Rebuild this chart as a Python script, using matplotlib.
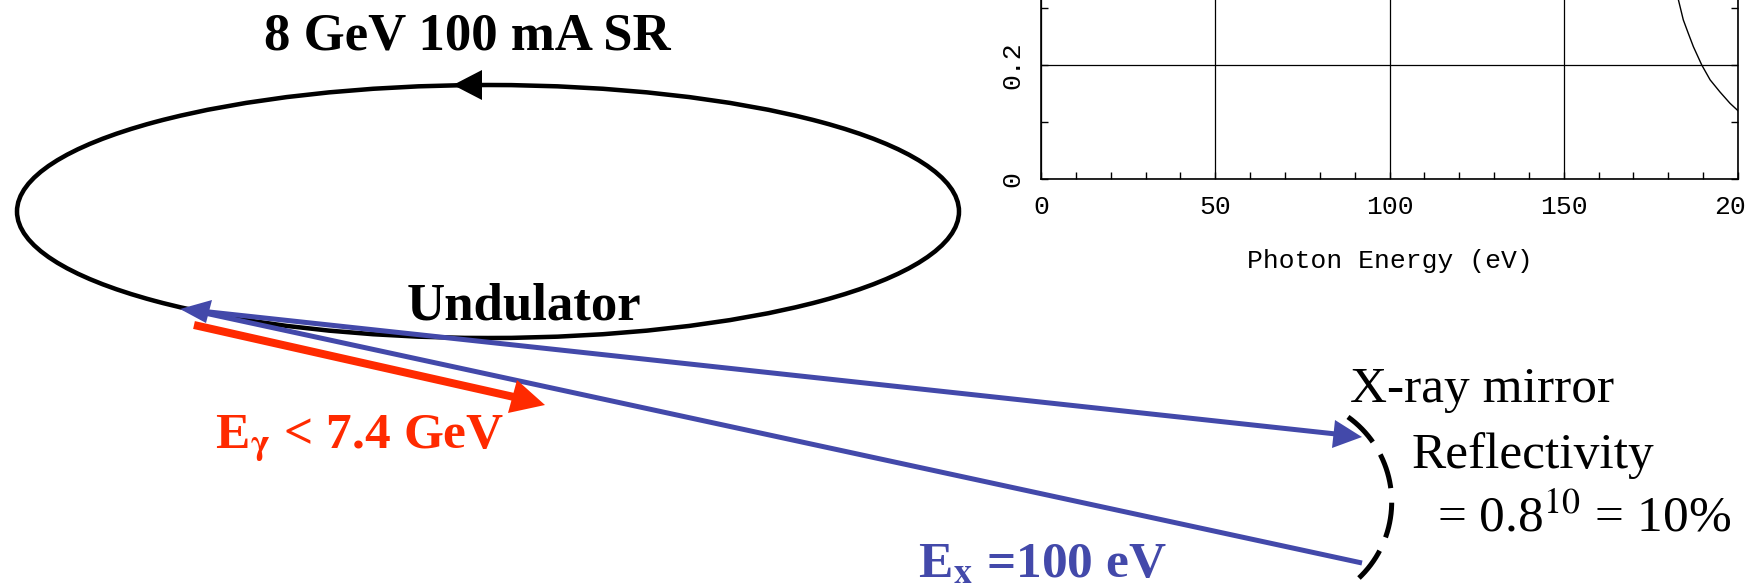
import numpy as np
import matplotlib
matplotlib.use('Agg')
import matplotlib.pyplot as plt
from matplotlib.patches import Ellipse, Polygon
from matplotlib.ticker import MultipleLocator

# ---------------- data (inset reflectivity curve) ----------------
energy_ev = [182.9, 184.3, 185.7, 187.2, 189.6, 192.0, 194.8, 197.7, 200.0]
reflectivity = [0.314, 0.279, 0.256, 0.232, 0.200, 0.174, 0.153, 0.133, 0.120]
x_ticks = [0, 50, 100, 150, 200]
x_tick_labels = ['0', '50', '100', '150', '200']
y_ticks = [0, 0.2]
y_tick_labels = ['0', '0.2']

# ---------------- figure ----------------
plt.rcParams['mathtext.fontset'] = 'stix'
plt.rcParams['lines.scale_dashes'] = False
W, H = 1747, 587
fig = plt.figure(figsize=(W / 100, H / 100), dpi=100)
fig.patch.set_facecolor('white')

ax = fig.add_axes([0, 0, 1, 1])
ax.set_xlim(0, W)
ax.set_ylim(H, 0)
ax.axis('off')

PX = 0.72  # points per pixel
BLUE = '#4349AA'
RED = '#FF2A00'
SERIF = 'Liberation Serif'

# storage ring
ring = Ellipse((488, 211.5), 942, 253, fill=False, edgecolor='black', lw=4.5 * PX, zorder=2)
ax.add_patch(ring)
ax.add_patch(Polygon([(453, 85), (482, 70), (482, 100)], closed=True,
                     facecolor='black', edgecolor='none', zorder=3))

# blue X-ray beams
ax.plot([200, 1336], [311, 434], color=BLUE, lw=5 * PX, solid_capstyle='butt', zorder=4)
ax.plot([200, 1362], [312, 563], color=BLUE, lw=5 * PX, solid_capstyle='butt', zorder=4)
ax.add_patch(Polygon([(180, 309), (212, 300), (206, 323)], closed=True,
                     facecolor=BLUE, edgecolor='none', zorder=4))
ax.add_patch(Polygon([(1362, 437), (1335, 420), (1332, 448)], closed=True,
                     facecolor=BLUE, edgecolor='none', zorder=4))

# red gamma beam
ax.plot([194, 514], [325, 397], color=RED, lw=8 * PX, solid_capstyle='butt', zorder=5)
ax.add_patch(Polygon([(545, 405), (517, 380), (508, 413)], closed=True,
                     facecolor=RED, edgecolor='none', zorder=5))

# X-ray mirror (dashed arc)
t = np.radians(np.linspace(54.4, -46.6, 200))
cx, cy, r = 1287.1, 502.0, 104.6
ax.plot(cx + r * np.cos(t), cy - r * np.sin(t), color='black', lw=5 * PX,
        linestyle=(0, (25.5, 10.5)), dash_capstyle='butt', zorder=3)

# labels
ax.text(467, 50, '8 GeV 100 mA SR', family=SERIF, weight='bold', fontsize=38,
        ha='center', va='baseline', color='black')
ax.text(524, 320, 'Undulator', family=SERIF, weight='bold', fontsize=38,
        ha='center', va='baseline', color='black')
ax.text(215, 448, r'E$_{\mathbf{\gamma}}$ < 7.4 GeV', family=SERIF, weight='bold',
        fontsize=37, ha='left', va='baseline', color=RED)
ax.text(918, 577, r'E$_{\mathbf{x}}$ =100 eV', family=SERIF, weight='bold',
        fontsize=37, ha='left', va='baseline', color=BLUE)
ax.text(1350, 402, 'X-ray mirror', family=SERIF, fontsize=37,
        ha='left', va='baseline', color='black')
ax.text(1412, 468, 'Reflectivity', family=SERIF, fontsize=37,
        ha='left', va='baseline', color='black')
ax.text(1437, 532, r'= 0.8$^{10}$ = 10%', family=SERIF, fontsize=37,
        ha='left', va='baseline', color='black')

# ---------------- inset chart ----------------
ax0_px, ax1_px, base_px, unit_px = 1041, 1738, 179.3, 571.5
ins = fig.add_axes([ax0_px / W, (H - base_px) / H, (ax1_px - ax0_px) / W, unit_px / H])
ins.set_facecolor('none')
ins.plot(energy_ev, reflectivity, color='black', lw=1.0)
ins.set_xlim(0, 200)
ins.set_ylim(0, 1)
MONO = 'Liberation Mono'
ins.set_xticks(x_ticks)
ins.set_xticklabels(x_tick_labels, family=MONO, fontsize=19)
ins.set_yticks(y_ticks)
ins.set_yticklabels(y_tick_labels, family=MONO, fontsize=19, rotation=90)
for lbl in ins.get_yticklabels():
    lbl.set_va('center')
ins.xaxis.set_minor_locator(MultipleLocator(10))
ins.yaxis.set_minor_locator(MultipleLocator(0.1))
ins.tick_params(which='both', direction='in', top=True, right=True,
                length=5, width=1.0, color='black')
ins.tick_params(axis='x', pad=11)
ins.tick_params(axis='y', pad=12)
ins.grid(True, which='major', color='black', lw=0.9)
for s in ins.spines.values():
    s.set_linewidth(1.2)
ins.set_xlabel('Photon Energy (eV)', family=MONO, fontsize=19)
ins.xaxis.set_label_coords(0.5, (base_px - 249) / unit_px)
ins.xaxis.label.set_va('top')

fig.savefig('out.png', dpi=100, facecolor='white')
